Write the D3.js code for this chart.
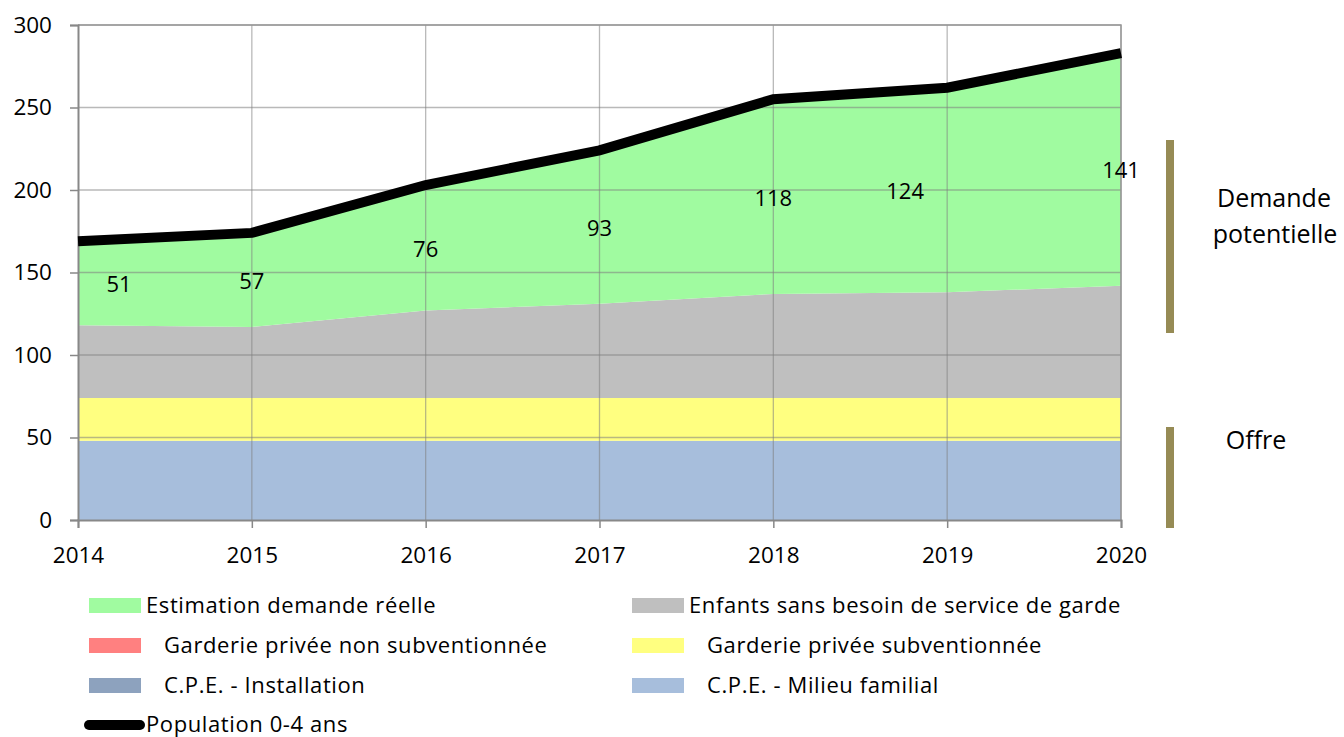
<!DOCTYPE html>
<html><head><meta charset="utf-8">
<script src="https://cdn.jsdelivr.net/npm/d3@7"></script>
<style>body{margin:0;background:#fff}svg{display:block}text{font-family:"Open Sans",sans-serif;fill:#000}</style>
</head><body><svg id="c" width="1344" height="737"></svg>
<script>
const years = [2014, 2015, 2016, 2017, 2018, 2019, 2020];
const cpeMilieu = [48, 48, 48, 48, 48, 48, 48];
const cpeInstallation = [0, 0, 0, 0, 0, 0, 0];
const gardSubv = [26, 26, 26, 26, 26, 26, 26];
const gardNonSubv = [0, 0, 0, 0, 0, 0, 0];
const sansBesoin = [44, 43, 53, 57, 63, 64, 68];
const demandeReelle = [51, 57, 76, 93, 118, 124, 141];
const population = [169, 174, 203, 224, 255, 262, 283];
const yTicks = [0, 50, 100, 150, 200, 250, 300];

const svg = d3.select("#c");
const W = 1344, H = 737;
const m = {l: 78, r: 223, t: 25, b: 217};
const x = d3.scalePoint().domain(years).range([m.l, W - m.r]);
const y = d3.scaleLinear().domain([0, 300]).range([H - m.b, m.t]);

const keys = ["cpeMilieu","cpeInstallation","gardNonSubv","gardSubv","sansBesoin","demandeReelle"];
const src = {cpeMilieu, cpeInstallation, gardNonSubv, gardSubv, sansBesoin, demandeReelle};
const colors = {cpeMilieu:"#a7bedc", cpeInstallation:"#8da2be", gardNonSubv:"#ff8080", gardSubv:"#ffff80", sansBesoin:"#bfbfbf", demandeReelle:"#a0fba0"};
const rows = years.map((yr,i)=>{const o={year:yr}; keys.forEach(k=>o[k]=src[k][i]); return o;});
const stacked = d3.stack().keys(keys)(rows);

const area = d3.area().x(d=>x(d.data.year)).y0(d=>y(d[0])).y1(d=>y(d[1]));
svg.append("g").selectAll("path").data(stacked).join("path")
  .attr("d", area).attr("fill", d=>colors[d.key]);

// grid on top
const g = svg.append("g").attr("stroke","#7f7f7f").attr("stroke-opacity",0.55).attr("stroke-width",1.3);
yTicks.slice(1).forEach(t=>g.append("line").attr("x1",m.l).attr("x2",W-m.r).attr("y1",y(t)).attr("y2",y(t)));
years.slice(1).forEach(yr=>g.append("line").attr("x1",x(yr)).attr("x2",x(yr)).attr("y1",m.t).attr("y2",H-m.b));
svg.append("path").attr("d",`M${m.l},${m.t}H${W-m.r}V${H-m.b}`).attr("fill","none").attr("stroke","#999").attr("stroke-width",1.5);

// axes
const ya = svg.append("g").attr("transform",`translate(${m.l},0)`)
  .call(d3.axisLeft(y).tickValues(yTicks).tickSize(8).tickPadding(18));
ya.select(".domain").attr("stroke","#888").attr("stroke-width",2);
ya.selectAll(".tick line").attr("stroke","#888").attr("stroke-width",1.5);
ya.selectAll("text").style("font-size","22.5px").attr("fill","#000");
const xa = svg.append("g").attr("transform",`translate(0,${H-m.b})`)
  .call(d3.axisBottom(x).tickSize(8).tickPadding(19).tickFormat(d3.format("d")));
xa.select(".domain").attr("stroke","#888").attr("stroke-width",2);
xa.selectAll(".tick line").attr("stroke","#888").attr("stroke-width",1.5);
xa.selectAll("text").style("font-size","22.5px").attr("fill","#000");

// population line
svg.append("path").datum(population.map((v,i)=>[x(years[i]),y(v)]))
  .attr("d", d3.line()).attr("fill","none").attr("stroke","#000").attr("stroke-width",10);

// data labels
const labelDx = [41, 0, 0, 0, 0, -42, 0];
const topLayer = stacked[stacked.length-1];
svg.append("g").selectAll("text").data(topLayer).join("text")
  .attr("x",(d,i)=>x(years[i])+labelDx[i]).attr("y",d=>y((d[0]+d[1])/2)+9)
  .attr("text-anchor","middle").style("font-size","22px")
  .text((d,i)=>demandeReelle[i]);

// brackets
const bc = "#968b55";
svg.append("rect").attr("x",1166).attr("width",8).attr("y",140).attr("height",193).attr("fill",bc);
svg.append("rect").attr("x",1166).attr("width",8).attr("y",427).attr("height",101).attr("fill",bc);
svg.append("text").attr("x",1274).attr("y",207).attr("text-anchor","middle").style("font-size","25px").text("Demande");
svg.append("text").attr("x",1275).attr("y",243).attr("text-anchor","middle").style("font-size","25px").text("potentielle");
svg.append("text").attr("x",1256).attr("y",449).attr("text-anchor","middle").style("font-size","25px").text("Offre");

// legend
const legendItems = [
  {label:"Estimation demande réelle", color:colors.demandeReelle, col:0, row:0, pad:false},
  {label:"Enfants sans besoin de service de garde", color:colors.sansBesoin, col:1, row:0, pad:false},
  {label:"Garderie privée non subventionnée", color:colors.gardNonSubv, col:0, row:1, pad:true},
  {label:"Garderie privée subventionnée", color:colors.gardSubv, col:1, row:1, pad:true},
  {label:"C.P.E. - Installation", color:colors.cpeInstallation, col:0, row:2, pad:true},
  {label:"C.P.E. - Milieu familial", color:colors.cpeMilieu, col:1, row:2, pad:true}
];
const colX = [89, 632];
const rowY = [605, 645, 685, 725];
const lg = svg.append("g").style("font-size","22px").style("letter-spacing","0.6px");
legendItems.forEach(it=>{
  lg.append("rect").attr("x",colX[it.col]).attr("y",rowY[it.row]-7).attr("width",52).attr("height",15).attr("fill",it.color);
  lg.append("text").attr("x",colX[it.col]+(it.pad?75:57)).attr("y",rowY[it.row]+8).text(it.label);
});
lg.append("line").attr("x1",89).attr("x2",140).attr("y1",rowY[3]).attr("y2",rowY[3]).attr("stroke","#000").attr("stroke-width",10).attr("stroke-linecap","round");
lg.append("text").attr("x",146).attr("y",rowY[3]+7).text("Population 0-4 ans");
</script></body></html>
